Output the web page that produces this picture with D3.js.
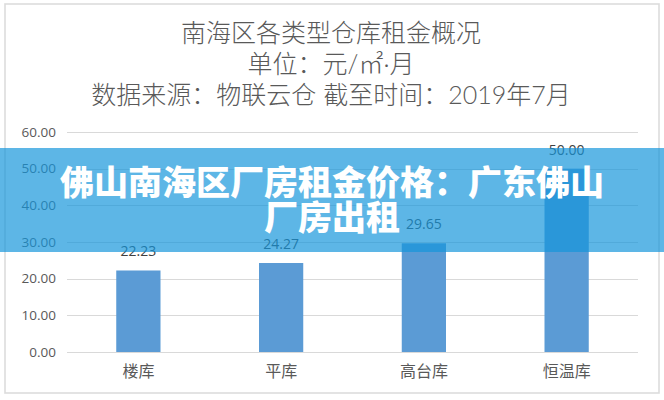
<!DOCTYPE html>
<html>
<head>
<meta charset="utf-8">
<script src="https://cdn.jsdelivr.net/npm/d3@7/dist/d3.min.js"></script>
<style>
  html, body { margin: 0; padding: 0; background: #fff; }
  svg { display: block; }
</style>
</head>
<body>
<svg id="chart" width="664" height="400"></svg>
<script>
const categories = ["楼库", "平库", "高台库", "恒温库"];
const rents = [22.23, 24.27, 29.65, 50.00];
const yTicks = [0, 10, 20, 30, 40, 50, 60];
const titleLines = ["南海区各类型仓库租金概况", "单位：元/㎡·月", "数据来源：物联云仓 截至时间：2019年7月"];
const bannerLines = ["佛山南海区厂房租金价格：广东佛山", "厂房出租"];

const W = 664, H = 400;
const svg = d3.select("#chart");
const cjk = "'Noto Sans CJK SC', 'Noto Sans', sans-serif";
const latin = "'Open Sans', 'Noto Sans CJK SC', sans-serif";

svg.append("rect").attr("width", W).attr("height", H).attr("fill", "#fff");
svg.append("rect")
  .attr("x", 5).attr("y", 4).attr("width", 654).attr("height", 389)
  .attr("fill", "#fff").attr("stroke", "#dcdcdc").attr("stroke-width", 1.6);

// titles
svg.selectAll("text.title").data(titleLines).enter().append("text")
  .attr("class", "title")
  .attr("x", 331)
  .attr("y", (d, i) => 42 + i * 31)
  .attr("text-anchor", "middle")
  .attr("font-family", "'Lato', 'Noto Sans CJK SC', sans-serif")
  .attr("font-size", 25)
  .attr("font-weight", 300)
  .attr("fill", "#595959")
  .text(d => d);

const x = d3.scaleBand().domain(categories).range([67, 638]).paddingInner(0.69).paddingOuter(0.345);
const y = d3.scaleLinear().domain([0, 60]).range([352, 132]);

// grid
svg.append("g").selectAll("line").data(yTicks).enter().append("line")
  .attr("x1", 67).attr("x2", 638)
  .attr("y1", d => Math.round(y(d)) + 0.5).attr("y2", d => Math.round(y(d)) + 0.5)
  .attr("stroke", "#d9d9d9").attr("stroke-width", 1);

// y axis labels
const yAxis = d3.axisLeft(y).tickValues(yTicks).tickFormat(d3.format(".2f")).tickSize(0).tickPadding(0);
const gy = svg.append("g").attr("transform", "translate(56,0)").call(yAxis);
gy.select(".domain").remove();
gy.selectAll("text").attr("font-family", latin)
  .attr("font-size", 13.5).attr("fill", "#595959");

// bars
svg.append("g").selectAll("rect").data(rents).enter().append("rect")
  .attr("x", (d, i) => x(categories[i]))
  .attr("width", x.bandwidth())
  .attr("y", d => y(d))
  .attr("height", d => y(0) - y(d))
  .attr("fill", "#5b9bd5");

// value labels
svg.append("g").selectAll("text").data(rents).enter().append("text")
  .attr("x", (d, i) => x(categories[i]) + x.bandwidth() / 2)
  .attr("y", d => y(d) - 14)
  .attr("text-anchor", "middle")
  .attr("font-family", latin)
  .attr("font-size", 14)
  .attr("fill", "#404040")
  .text(d => d3.format(".2f")(d));

// x axis labels
const xAxis = d3.axisBottom(x).tickSize(0).tickPadding(0);
const gx = svg.append("g").attr("transform", "translate(0,365)").call(xAxis);
gx.select(".domain").remove();
gx.selectAll("text").attr("font-family", cjk).attr("font-size", 16)
  .attr("fill", "#595959").attr("dy", "0.72em");

// banner overlay
svg.append("rect")
  .attr("x", 0).attr("y", 148).attr("width", W).attr("height", 104)
  .attr("fill", "rgb(20,149,219)").attr("fill-opacity", 0.69);
svg.selectAll("text.banner").data(bannerLines).enter().append("text")
  .attr("class", "banner")
  .attr("x", 332)
  .attr("y", (d, i) => 195 + i * 35)
  .attr("text-anchor", "middle")
  .attr("font-family", cjk)
  .attr("font-size", 34)
  .attr("font-weight", 900)
  .attr("fill", "#fff")
  .text(d => d);
</script>
</body>
</html>
